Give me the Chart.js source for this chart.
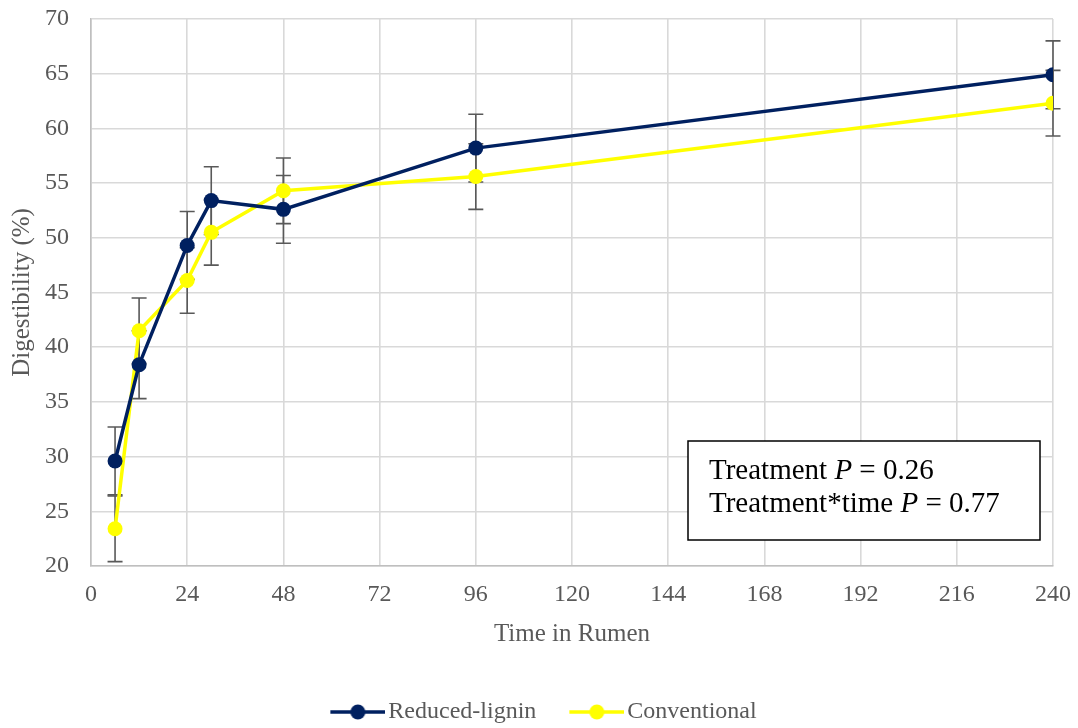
<!DOCTYPE html>
<html>
<head>
<meta charset="utf-8">
<script src="https://cdn.jsdelivr.net/npm/chart.js@4.4.1/dist/chart.umd.min.js"></script>
<style>
  html, body { margin: 0; padding: 0; background: #fff; }
  #wrap { width: 1078px; height: 728px; }
</style>
</head>
<body>
<div id="wrap"><canvas id="chart"></canvas></div>
<script>
// hours in rumen
const hours = [6, 12, 24, 30, 48, 96, 240];

// digestibility (%) per treatment
const reducedLignin = [29.6, 38.4, 49.3, 53.4, 52.6, 58.2, 64.9];
const conventional = [23.4, 41.5, 46.1, 50.5, 54.3, 55.6, 62.3];

// error bars (+/-)
const reducedErr = [3.1, 3.1, 3.1, 3.1, 3.1, 3.1, 3.1];
const conventionalErr = [3.0, 3.0, 3.0, 3.0, 3.0, 3.0, 3.0];

const noteLines = [
  ['Treatment ', 'P', ' = 0.26'],
  ['Treatment*time ', 'P', ' = 0.77']
];

const navy = '#002060';
const yellow = '#FFFF00';
const textGrey = '#595959';
const serif = "'Liberation Serif', 'Times New Roman', serif";

/**
 * build a legend icon: short line with a dot in the middle,
 * shifted right inside a wider transparent image
 * @param {string} color the series colour
 */
const legendIcon = color => {
  const c = document.createElement('canvas');
  c.width = 87;
  c.height = 18;
  const ctx = c.getContext('2d');
  ctx.strokeStyle = color;
  ctx.lineWidth = 3.5;
  ctx.beginPath();
  ctx.moveTo(32, 9);
  ctx.lineTo(88, 9);
  ctx.stroke();
  ctx.fillStyle = color;
  ctx.beginPath();
  ctx.arc(59.5, 9, 7.5, 0, Math.PI * 2);
  ctx.fill();
  return c;
};

const toPoints = (xs, ys) => xs.map((x, i) => ({ x, y: ys[i] }));

// draws the vertical error bars through the chart's own scales
const errorBars = {
  id: 'errorBars',
  beforeDatasetsDraw(chart) {
    const { ctx, scales } = chart;
    const sets = [
      { ys: reducedLignin, err: reducedErr },
      { ys: conventional, err: conventionalErr }
    ];
    ctx.save();
    ctx.strokeStyle = '#595959';
    ctx.lineWidth = 1.6;
    sets.forEach(set => {
      hours.forEach((h, i) => {
        const x = scales.x.getPixelForValue(h);
        const top = scales.y.getPixelForValue(set.ys[i] + set.err[i]);
        const bottom = scales.y.getPixelForValue(set.ys[i] - set.err[i]);
        ctx.beginPath();
        ctx.moveTo(x, top);
        ctx.lineTo(x, bottom);
        ctx.moveTo(x - 7.5, top);
        ctx.lineTo(x + 7.5, top);
        ctx.moveTo(x - 7.5, bottom);
        ctx.lineTo(x + 7.5, bottom);
        ctx.stroke();
      });
    });
    ctx.restore();
  }
};

// nudge the legend row a little lower and to the left
const legendNudge = {
  id: 'legendNudge',
  afterLayout(chart) {
    const lg = chart.legend;
    if (!lg) return;
    lg.top += 6;
    lg.bottom += 6;
    lg.left -= 8;
    lg.right -= 8;
  }
};

// the boxed P-value note in the lower right
const noteBox = {
  id: 'noteBox',
  afterDraw(chart) {
    const { ctx, chartArea } = chart;
    const left = chartArea.right - 365;
    const top = chartArea.bottom - 125;
    const w = 352;
    const h = 99;
    ctx.save();
    ctx.fillStyle = '#fff';
    ctx.fillRect(left, top, w, h);
    ctx.strokeStyle = '#000';
    ctx.lineWidth = 1.5;
    ctx.strokeRect(left, top, w, h);
    ctx.fillStyle = '#000';
    ctx.textBaseline = 'alphabetic';
    noteLines.forEach((parts, row) => {
      let x = left + 21;
      const y = top + 38 + row * 33;
      parts.forEach((part, j) => {
        ctx.font = (j === 1 ? 'italic ' : '') + '29px ' + serif;
        ctx.fillText(part, x, y);
        x += ctx.measureText(part).width;
      });
    });
    ctx.restore();
  }
};

const canvas = document.getElementById('chart').getContext('2d');

new Chart(canvas, {
  type: 'line',
  data: {
    datasets: [
      {
        label: 'Reduced-lignin',
        data: toPoints(hours, reducedLignin),
        borderColor: navy,
        backgroundColor: navy,
        borderWidth: 3.5,
        pointRadius: 7.5,
        pointHoverRadius: 7.5,
        pointBorderWidth: 0,
        tension: 0
      },
      {
        label: 'Conventional',
        data: toPoints(hours, conventional),
        borderColor: yellow,
        backgroundColor: yellow,
        borderWidth: 3.5,
        pointRadius: 7.5,
        pointHoverRadius: 7.5,
        pointBorderWidth: 0,
        tension: 0
      }
    ]
  },
  options: {
    responsive: true,
    maintainAspectRatio: false,
    animation: false,
    layout: { padding: { left: 7, right: 5, top: 0, bottom: 0 } },
    plugins: {
      tooltip: { enabled: false },
      legend: {
        position: 'bottom',
        labels: {
          usePointStyle: true,
          pointStyleWidth: 69,
          padding: 10,
          color: textGrey,
          font: { family: serif, size: 24 },
          generateLabels: chart =>
            chart.data.datasets.map((ds, i) => ({
              text: ds.label,
              pointStyle: legendIcon(ds.borderColor),
              fontColor: textGrey,
              strokeStyle: ds.borderColor,
              fillStyle: ds.borderColor,
              lineWidth: 0,
              datasetIndex: i
            }))
        }
      }
    },
    scales: {
      x: {
        type: 'linear',
        min: 0,
        max: 240,
        afterFit: scale => {
          scale.height = 118;
          scale.paddingLeft = 0;
          scale.paddingRight = 25;
        },
        ticks: {
          stepSize: 24,
          color: textGrey,
          font: { family: serif, size: 24 },
          padding: 14
        },
        grid: { color: '#d9d9d9', lineWidth: 1.6, drawTicks: false },
        border: { color: '#bfbfbf', width: 1.6 },
        title: {
          display: true,
          text: 'Time in Rumen',
          color: textGrey,
          font: { family: serif, size: 25 },
          padding: { top: 12, bottom: 35 }
        }
      },
      y: {
        min: 20,
        max: 70,
        afterFit: scale => {
          scale.width = 84;
          scale.paddingTop = 19;
          scale.paddingBottom = 0;
        },
        ticks: {
          stepSize: 5,
          color: textGrey,
          font: { family: serif, size: 24 },
          padding: 22
        },
        grid: { color: '#d9d9d9', lineWidth: 1.6, drawTicks: false },
        border: { color: '#bfbfbf', width: 1.6 },
        title: {
          display: true,
          text: 'Digestibility (%)',
          color: textGrey,
          font: { family: serif, size: 25 },
          padding: { top: 0, bottom: 8 }
        }
      }
    }
  },
  plugins: [errorBars, legendNudge, noteBox]
});
</script>
</body>
</html>
